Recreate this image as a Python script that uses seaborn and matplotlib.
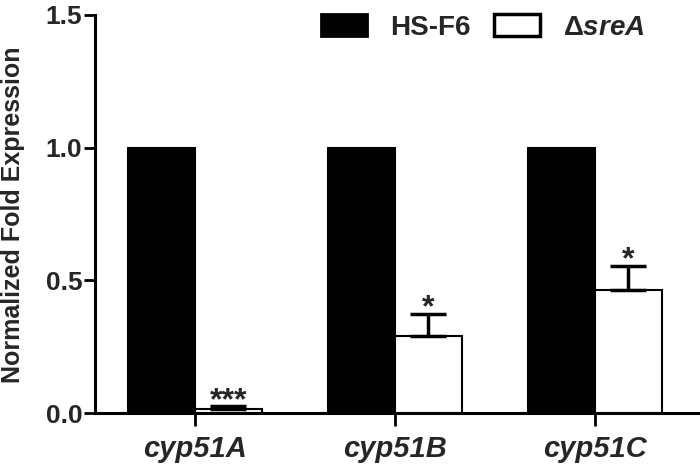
import matplotlib
matplotlib.use("Agg")
import matplotlib.pyplot as plt
from matplotlib.patches import Patch
import seaborn as sns
import pandas as pd

genes = ["cyp51A", "cyp51B", "cyp51C"]
strains = ["HS-F6", "ΔsreA"]
wt_values = [1.0, 1.0, 1.0]
mut_values = [0.015, 0.29, 0.465]
mut_errors = [0.01, 0.085, 0.09]
stars = ["***", "*", "*"]

sns.set_style("white")
plt.rcParams["font.family"] = ["Liberation Sans", "DejaVu Sans"]
plt.rcParams["mathtext.fontset"] = "custom"
plt.rcParams["mathtext.it"] = "Liberation Sans:italic:bold"
plt.rcParams["mathtext.rm"] = "Liberation Sans:bold"

df = pd.DataFrame({
    "gene": genes * 2,
    "strain": [strains[0]] * 3 + [strains[1]] * 3,
    "value": wt_values + mut_values,
})

fig = plt.figure(figsize=(7, 4.73), dpi=100)
ax = fig.add_axes([0.1357, 0.1268, 0.8643, 0.8415])

sns.barplot(data=df, x="gene", y="value", hue="strain", order=genes,
            hue_order=strains, palette={"HS-F6": "black", "ΔsreA": "white"},
            edgecolor="black", linewidth=1.5, width=0.67, errorbar=None,
            legend=False, ax=ax)

# error bars (upper only) on the mutant bars + significance stars
mut_bars = ax.patches[3:6]
for bar, v, e, s in zip(mut_bars, mut_values, mut_errors, stars):
    xc = bar.get_x() + bar.get_width() / 2
    ax.errorbar(xc, v, yerr=[[0], [e]], fmt="none", ecolor="black",
                elinewidth=2.5, capsize=13, capthick=2.5)
    ax.text(xc, v + e - 0.036, s, ha="center", va="bottom",
            fontsize=23, fontweight="bold")

ax.set_ylim(0, 1.5)
ax.set_xlim(-0.5, 2.525)
ax.set_yticks([0, 0.5, 1.0, 1.5])
ax.set_yticklabels(["0.0", "0.5", "1.0", "1.5"])
ax.set_xlabel("")
ax.set_ylabel("Normalized Fold Expression", fontsize=18, fontweight="bold",
              va="center")
ax.yaxis.set_label_coords(-0.136, 0.497)

for lab in ax.get_yticklabels():
    lab.set_fontsize(19)
    lab.set_fontweight("bold")
for lab in ax.get_xticklabels():
    lab.set_fontsize(21)
    lab.set_fontweight("bold")
    lab.set_fontstyle("italic")

sns.despine(ax=ax)
for side in ["left", "bottom"]:
    ax.spines[side].set_linewidth(2.2)
    ax.spines[side].set_color("black")
ax.tick_params(axis="both", direction="out", width=2, color="black",
               left=True, bottom=True)
ax.tick_params(axis="y", length=8, pad=1)
ax.tick_params(axis="x", length=9, pad=7)

handles = [Patch(facecolor="black", edgecolor="black", linewidth=2),
           Patch(facecolor="white", edgecolor="black", linewidth=2.5)]
ax.legend(handles, ["HS-F6", "Δ$\\it{sreA}$"], ncol=2, frameon=False,
          loc="upper right", bbox_to_anchor=(0.95, 1.065),
          prop={"size": 20, "weight": "bold"},
          handlelength=1.65, handleheight=0.86, columnspacing=0.85,
          handletextpad=0.83)

fig.savefig("out.png", dpi=100)
